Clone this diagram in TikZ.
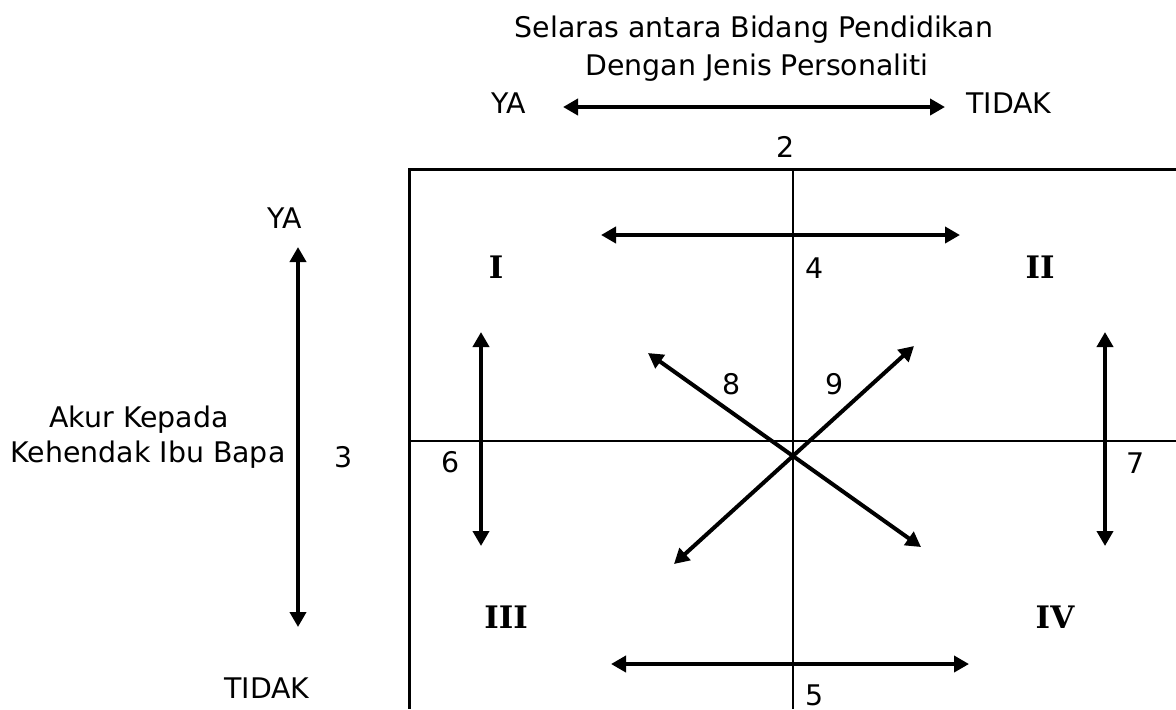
\documentclass[tikz,border=0pt]{standalone}
\usepackage{fontspec}
\setmainfont{DejaVu Sans}
\newfontfamily\romfont{DejaVu Serif}
\usetikzlibrary{arrows.meta}
\tikzset{
  lbl/.style={font=\fontsize{14.2}{16}\selectfont, inner sep=0pt, anchor=base},
  quad/.style={font=\romfont\bfseries\fontsize{15.5}{18}\selectfont, inner sep=0pt, anchor=base},
  dblarrow/.style={line width=2pt,
    {Triangle[length=7.5pt,width=8pt]}-{Triangle[length=7.5pt,width=8pt]}},
  gridline/.style={line width=1.1pt}
}
\begin{document}
\begin{tikzpicture}[x=0.5pt,y=-0.5pt]
  \useasboundingbox (0,0) rectangle (1176,709);
  % top axis: selaras bidang / personaliti
  \node[lbl] (ttla) at (754,37) {Selaras antara Bidang Pendidikan};
  \node[lbl] (ttlb) at (757,75) {Dengan Jenis Personaliti};
  \node[lbl] (topya) at (509,113) {YA};
  \node[lbl] (toptidak) at (1009,113) {TIDAK};
  \coordinate (topa) at (563,107);
  \coordinate (topb) at (945,107);
  \draw[dblarrow] (topa) -- (topb);
  \node[lbl] (n2) at (786,157) {2};
  % left axis: akur kehendak ibu bapa
  \node[lbl] (leftya) at (285,228) {YA};
  \node[lbl] (lefttidak) at (267,698) {TIDAK};
  \node[lbl] (akura) at (139,427) {Akur Kepada};
  \node[lbl] (akurb) at (148,462) {Kehendak Ibu Bapa};
  \coordinate (lefta) at (298,247);
  \coordinate (leftb) at (298,627);
  \draw[dblarrow] (lefta) -- (leftb);
  \node[lbl] (n3) at (344,467) {3};
  % box and cross
  \draw[line width=1.5pt] (1176,169) -- (409,169) -- (409,709);
  \draw[gridline] (793,169) -- (793,709) (409,441) -- (1176,441);
  % quadrants
  \node[quad] (q1) at (496,278) {I};
  \node[quad] (q2) at (1040,278) {II};
  \node[quad] (q3) at (506,628) {III};
  \node[quad] (q4) at (1055,628) {IV};
  % arrows inside the box
  \coordinate (a4a) at (601,235);  \coordinate (a4b) at (960,235);
  \coordinate (a5a) at (611,664);  \coordinate (a5b) at (969,664);
  \coordinate (a6a) at (481,332);  \coordinate (a6b) at (481,546);
  \coordinate (a7a) at (1105,332); \coordinate (a7b) at (1105,546);
  \coordinate (a8a) at (648,353);  \coordinate (a8b) at (921,547);
  \coordinate (a9a) at (914,346);  \coordinate (a9b) at (674,564);
  \foreach \e in {4,...,9}
    \draw[dblarrow] (a\e a) -- (a\e b);
  \node[lbl] (n4) at (815,278) {4};
  \node[lbl] (n5) at (815,705) {5};
  \node[lbl] (n6) at (451,472) {6};
  \node[lbl] (n7) at (1136,473) {7};
  \node[lbl] (n8) at (732,394) {8};
  \node[lbl] (n9) at (835,394) {9};
\end{tikzpicture}
\end{document}
